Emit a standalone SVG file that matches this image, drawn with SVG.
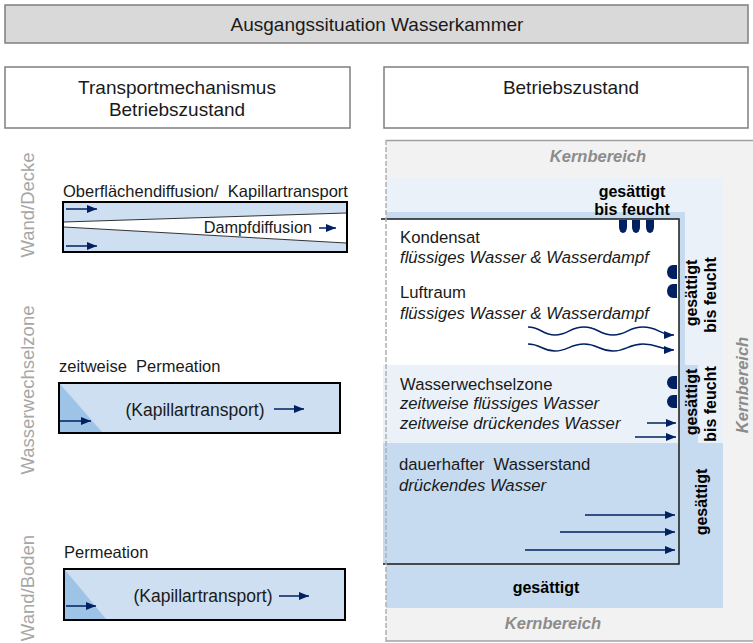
<svg xmlns="http://www.w3.org/2000/svg" width="753" height="643" viewBox="0 0 753 643">
<style>
text{font-family:"Liberation Sans",Arial,sans-serif;fill:#1a1a1a}
.h{font-size:19px}
.t16{font-size:16.5px}
.r{font-size:16.7px}
.k{font-size:17.5px}
.it{font-style:italic}
.b{font-weight:bold;font-size:16px;fill:#000}
.kb{font-weight:bold;font-style:italic;font-size:16.5px;fill:#8c8c8c}
.side{font-size:18.5px;fill:#a6a6a6}
.hdr{fill:#fff;stroke:#7f7f7f;stroke-width:1.5}
.arr{stroke:#002060;stroke-width:1.5;fill:none}
.drop{fill:#002060}
.box{fill:#cddff0;stroke:#000;stroke-width:2}
.tri{fill:#9dc3e6}
</style>
<defs>
<marker id="ah" viewBox="0 0 10 8" refX="10" refY="4" markerWidth="10" markerHeight="8" markerUnits="userSpaceOnUse" orient="auto"><path d="M0,0 L10,4 L0,8 z" fill="#002060"/></marker>
</defs>

<g id="title">
<rect x="5" y="5" width="743" height="38" fill="#d9d9d9" stroke="#7f7f7f" stroke-width="1.5"/>
<text class="h" x="377" y="31" text-anchor="middle">Ausgangssituation Wasserkammer</text>
</g>
<g id="header-left">
<rect class="hdr" x="5" y="67" width="345" height="61"/>
<text class="h" x="177" y="94" text-anchor="middle">Transportmechanismus</text>
<text class="h" x="177" y="116" text-anchor="middle">Betriebszustand</text>
</g>
<g id="header-right">
<rect class="hdr" x="384" y="67" width="364" height="61"/>
<text class="h" x="571" y="94" text-anchor="middle">Betriebszustand</text>
</g>

<g id="side-labels">
<text class="side" transform="translate(34,205) rotate(-90)" text-anchor="middle">Wand/Decke</text>
<text class="side" transform="translate(34,390) rotate(-90)" text-anchor="middle">Wasserwechselzone</text>
<text class="side" transform="translate(34,588) rotate(-90)" text-anchor="middle">Wand/Boden</text>
</g>

<g id="mech-decke">
<text class="t16" x="63" y="197">Oberflächendiffusion/&#160; Kapillartransport</text>
<rect class="box" x="63" y="202" width="284" height="50"/>
<polygon points="64,222 346,213 346,243 64,227" fill="#fff"/>
<line x1="64" y1="222" x2="346" y2="213" stroke="#333" stroke-width="1"/>
<line x1="64" y1="227" x2="346" y2="243" stroke="#333" stroke-width="1"/>
<rect x="63" y="202" width="284" height="50" fill="none" stroke="#000" stroke-width="2"/>
<text x="312" y="233" text-anchor="end" style="font-size:16.3px">Dampfdiffusion</text>
<line class="arr" x1="319" y1="228" x2="336" y2="228" marker-end="url(#ah)"/>
<line class="arr" x1="66" y1="209" x2="97" y2="209" marker-end="url(#ah)"/>
<line class="arr" x1="66" y1="246" x2="97" y2="246" marker-end="url(#ah)"/>
</g>

<g id="mech-wechsel">
<text class="t16" x="59" y="372">zeitweise&#160; Permeation</text>
<rect class="box" x="59" y="383" width="281" height="50"/>
<polygon class="tri" points="60,384 60,432 102,432"/>
<line class="arr" x1="60" y1="421" x2="91" y2="421" marker-end="url(#ah)"/>
<text class="k" x="195" y="416" text-anchor="middle">(Kapillartransport)</text>
<line class="arr" x1="274" y1="409" x2="304" y2="409" marker-end="url(#ah)"/>
</g>

<g id="mech-boden">
<text class="t16" x="64" y="558">Permeation</text>
<rect class="box" x="64" y="569" width="281" height="51"/>
<polygon class="tri" points="65,570 65,619 106,619"/>
<line class="arr" x1="66" y1="606" x2="96" y2="606" marker-end="url(#ah)"/>
<text class="k" x="203" y="602" text-anchor="middle">(Kapillartransport)</text>
<line class="arr" x1="279" y1="596" x2="309" y2="596" marker-end="url(#ah)"/>
</g>

<g id="zustand">
<rect x="386" y="140" width="367" height="501" fill="#f2f2f2"/>
<line x1="386" y1="140.5" x2="753" y2="140.5" stroke="#a0a0a0" stroke-width="1.5"/>
<line x1="386" y1="641" x2="753" y2="641" stroke="#a0a0a0" stroke-width="1.5"/>
<rect x="386" y="178" width="337" height="430" fill="#eaf1f9"/>
<rect x="386" y="212" width="299" height="153" fill="#c6dbef"/>
<rect x="386" y="365" width="312" height="78" fill="#c6dbef"/>
<rect x="386" y="443" width="337" height="165" fill="#c6dbef"/>
<rect x="383" y="219" width="296" height="146" fill="#fff"/>
<rect x="383" y="365" width="296" height="78" fill="#eaf1f9"/>
<rect x="383" y="443" width="296" height="121" fill="#c6dbef"/>
<path d="M381,219 H679 V564 H383" fill="none" stroke="#1a1a1a" stroke-width="1.5"/>
<line x1="386" y1="140" x2="386" y2="643" stroke="#b0b0b0" stroke-width="1.5" stroke-dasharray="5,2"/>

<text class="kb" x="598" y="162" text-anchor="middle">Kernbereich</text>
<text class="kb" x="553" y="629" text-anchor="middle">Kernbereich</text>
<text class="kb" transform="translate(748,385) rotate(-90)" text-anchor="middle">Kernbereich</text>

<text class="b" x="632" y="197" text-anchor="middle">gesättigt</text>
<text class="b" x="632" y="215" text-anchor="middle">bis feucht</text>
<text class="b" transform="translate(697,293) rotate(-90)" text-anchor="middle">gesättigt</text>
<text class="b" transform="translate(716,295) rotate(-90)" text-anchor="middle">bis feucht</text>
<text class="b" transform="translate(697,402) rotate(-90)" text-anchor="middle">gesättigt</text>
<text class="b" transform="translate(716,404) rotate(-90)" text-anchor="middle">bis feucht</text>
<text class="b" transform="translate(707,502) rotate(-90)" text-anchor="middle">gesättigt</text>
<text class="b" x="546" y="593" text-anchor="middle">gesättigt</text>

<text class="r" x="400" y="243">Kondensat</text>
<text class="r it" x="400" y="263">flüssiges Wasser &amp; Wasserdampf</text>
<text class="r" x="400" y="298">Luftraum</text>
<text class="r it" x="400" y="319">flüssiges Wasser &amp; Wasserdampf</text>
<text class="r" x="400" y="390">Wasserwechselzone</text>
<text class="r it" x="400" y="409">zeitweise flüssiges Wasser</text>
<text class="r it" x="400" y="429">zeitweise drückendes Wasser</text>
<text class="r" x="399" y="470">dauerhafter&#160; Wasserstand</text>
<text class="r it" x="399" y="491">drückendes Wasser</text>

<path class="drop" d="M619,220 h8 v7 a4,6 0 0 1 -8,0 z"/>
<path class="drop" d="M632,220 h8 v7 a4,6 0 0 1 -8,0 z"/>
<path class="drop" d="M646,220 h8 v7 a4,6 0 0 1 -8,0 z"/>
<path class="drop" d="M677,265 v14 h-4 a6,7 0 0 1 0,-14 z"/>
<path class="drop" d="M677,284 v14 h-4 a6,7 0 0 1 0,-14 z"/>
<path class="drop" d="M677,376 v13 h-4 a6,6.5 0 0 1 0,-13 z"/>
<path class="drop" d="M677,395 v13 h-4 a6,6.5 0 0 1 0,-13 z"/>
</g>

<g id="connectors">
<path class="arr" d="M528,327 C541,327 542,335 555,335 S570,327 584,327 S599,335 613,335 S628,327 643,327 S660,335 674,335" marker-end="url(#ah)"/>
<path class="arr" d="M528,344 C541,344 542,351 555,351 S570,344 584,344 S599,351 613,351 S628,344 643,344 S660,350 674,350" marker-end="url(#ah)"/>
<line class="arr" x1="647" y1="423" x2="676" y2="423" marker-end="url(#ah)"/>
<line class="arr" x1="635" y1="437" x2="676" y2="437" marker-end="url(#ah)"/>
<line class="arr" x1="585" y1="515" x2="675" y2="515" marker-end="url(#ah)"/>
<line class="arr" x1="560" y1="532" x2="675" y2="532" marker-end="url(#ah)"/>
<line class="arr" x1="525" y1="550" x2="675" y2="550" marker-end="url(#ah)"/>
</g>
</svg>
